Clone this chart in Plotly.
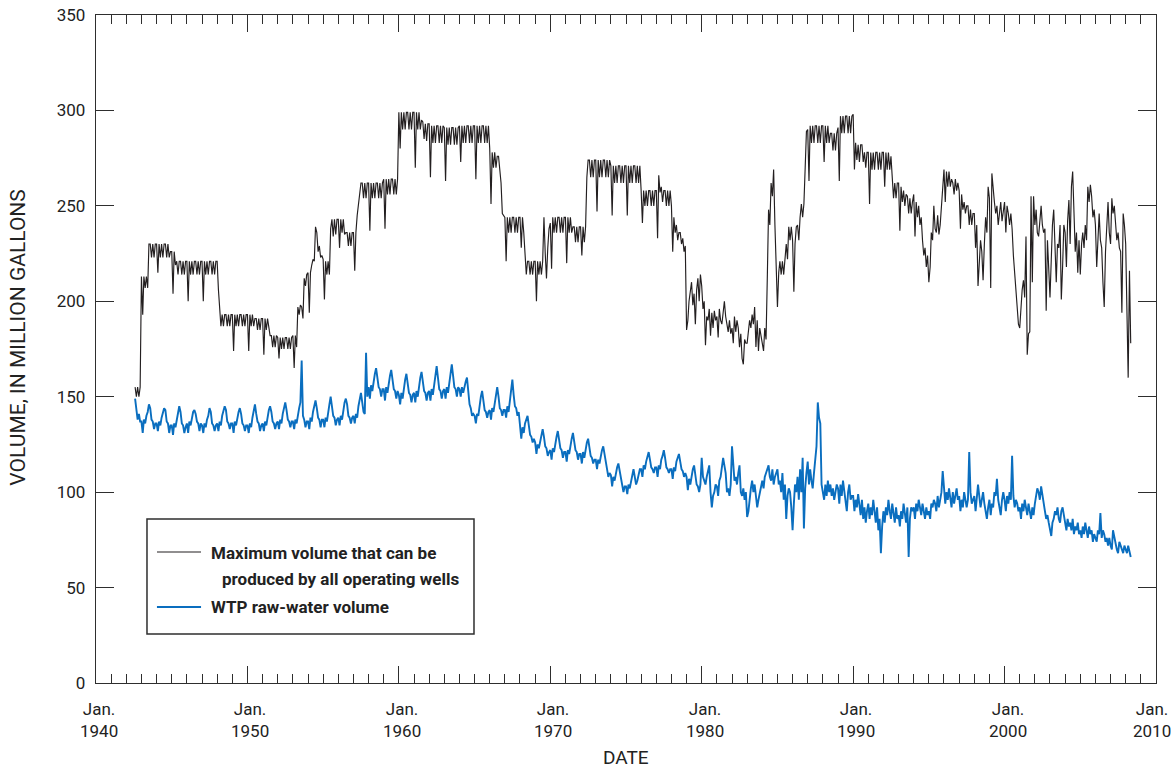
import pandas as pd
import plotly.graph_objects as go

# Monthly volumes, in million gallons, starting August 1942 (one row per calendar year)
MAX_VOLUME = [
    155, 150, 155, 150, 155,                                    # 1942 (Aug-Dec)
    213, 193, 213, 207, 213, 207, 230, 230, 223, 230, 223, 230,  # 1943
    230, 215, 230, 223, 230, 223, 230, 230, 223, 230, 223, 226,  # 1944
    226, 204, 226, 219, 221, 214, 221, 221, 214, 221, 214, 221,  # 1945
    221, 200, 221, 214, 221, 214, 221, 221, 214, 221, 214, 221,  # 1946
    221, 200, 221, 214, 221, 214, 221, 221, 214, 221, 214, 221,  # 1947
    221, 206, 193, 187, 193, 187, 193, 193, 187, 193, 187, 193,  # 1948
    193, 174, 193, 187, 193, 187, 193, 193, 187, 193, 187, 193,  # 1949
    193, 174, 193, 187, 193, 187, 191, 191, 185, 191, 185, 191,  # 1950
    191, 172, 191, 185, 191, 185, 182, 182, 176, 182, 176, 182,  # 1951
    181, 170, 181, 175, 181, 175, 181, 181, 175, 181, 175, 181,  # 1952
    182, 165, 182, 176, 197, 193, 198, 197, 191, 212, 208, 214,  # 1953
    215, 194, 215, 219, 222, 221, 239, 236, 226, 229, 223, 224,  # 1954
    222, 201, 221, 214, 221, 214, 238, 243, 234, 243, 235, 243,  # 1955
    243, 228, 243, 236, 243, 235, 236, 236, 229, 236, 229, 236,  # 1956
    236, 216, 236, 245, 251, 254, 262, 262, 254, 262, 254, 262,  # 1957
    262, 237, 262, 254, 262, 254, 262, 262, 254, 262, 254, 262,  # 1958
    264, 238, 264, 256, 264, 256, 264, 264, 256, 264, 256, 264,  # 1959
    299, 280, 299, 290, 299, 290, 299, 299, 290, 299, 290, 299,  # 1960
    299, 270, 299, 290, 299, 290, 295, 294, 285, 293, 284, 293,  # 1961
    293, 265, 292, 283, 292, 283, 292, 292, 283, 292, 283, 292,  # 1962
    291, 263, 291, 282, 291, 282, 291, 291, 282, 291, 282, 291,  # 1963
    292, 273, 292, 283, 292, 283, 292, 292, 283, 292, 283, 292,  # 1964
    292, 264, 292, 283, 292, 283, 292, 292, 283, 292, 283, 292,  # 1965
    280, 251, 278, 270, 278, 270, 276, 276, 268, 262, 246, 245,  # 1966
    244, 221, 244, 236, 244, 236, 244, 244, 236, 244, 236, 244,  # 1967
    244, 228, 244, 236, 221, 214, 221, 221, 214, 221, 214, 221,  # 1968
    221, 200, 221, 214, 221, 214, 221, 244, 225, 212, 228, 238,  # 1969
    241, 217, 244, 236, 244, 236, 244, 244, 236, 244, 236, 244,  # 1970
    244, 220, 244, 236, 244, 236, 239, 239, 231, 239, 231, 239,  # 1971
    239, 224, 239, 231, 239, 265, 274, 274, 265, 274, 265, 274,  # 1972
    274, 247, 274, 265, 274, 265, 274, 274, 265, 274, 265, 274,  # 1973
    271, 245, 271, 262, 271, 262, 271, 271, 262, 271, 262, 271,  # 1974
    271, 245, 271, 262, 271, 262, 271, 271, 262, 271, 262, 271,  # 1975
    258, 241, 258, 250, 258, 250, 258, 258, 250, 258, 250, 258,  # 1976
    258, 233, 266, 257, 260, 252, 258, 258, 250, 258, 250, 258,  # 1977
    250, 226, 244, 236, 240, 232, 236, 236, 230, 233, 226, 229,  # 1978
    185, 190, 200, 205, 210, 198, 204, 188, 206, 212, 200, 214,  # 1979
    208, 196, 200, 177, 192, 190, 196, 182, 194, 186, 195, 190,  # 1980
    192, 181, 196, 190, 188, 194, 200, 192, 187, 184, 190, 183,  # 1981
    186, 178, 192, 184, 190, 186, 176, 183, 170, 167, 180, 178,  # 1982
    178, 184, 190, 186, 193, 188, 197, 176, 190, 174, 186, 182,  # 1983
    178, 174, 186, 180, 212, 248, 240, 262, 255, 269, 240, 215,  # 1984
    197, 215, 221, 214, 221, 214, 221, 230, 222, 239, 232, 239,  # 1985
    232, 205, 230, 239, 240, 232, 244, 251, 244, 251, 270, 289,  # 1986
    290, 263, 292, 283, 292, 283, 292, 292, 283, 292, 283, 292,  # 1987
    292, 273, 292, 283, 292, 283, 288, 288, 279, 288, 279, 288,  # 1988
    291, 263, 297, 288, 297, 288, 297, 297, 288, 297, 288, 297,  # 1989
    298, 269, 283, 274, 282, 273, 282, 282, 273, 278, 270, 278,  # 1990
    278, 251, 278, 269, 278, 269, 278, 278, 269, 278, 269, 278,  # 1991
    278, 260, 278, 269, 278, 269, 276, 262, 254, 262, 254, 262,  # 1992
    262, 237, 260, 252, 258, 250, 256, 255, 246, 254, 246, 252,  # 1993
    256, 234, 252, 244, 250, 240, 244, 232, 224, 228, 218, 224,  # 1994
    210, 218, 236, 232, 250, 238, 236, 245, 235, 240, 250, 262,  # 1995
    269, 252, 268, 260, 268, 260, 264, 262, 256, 264, 258, 262,  # 1996
    258, 238, 256, 248, 252, 246, 250, 250, 240, 248, 240, 246,  # 1997
    246, 228, 240, 208, 222, 232, 226, 211, 230, 244, 236, 260,  # 1998
    254, 207, 267, 258, 252, 246, 250, 240, 246, 252, 242, 248,  # 1999
    252, 236, 250, 246, 240, 246, 238, 224, 214, 208, 196, 188,  # 2000
    186, 198, 206, 211, 202, 234, 172, 183, 184, 255, 210, 255,  # 2001
    240, 248, 236, 234, 242, 250, 240, 236, 238, 195, 232, 212,  # 2002
    202, 222, 240, 248, 232, 210, 230, 228, 240, 201, 218, 240,  # 2003
    236, 218, 242, 253, 230, 260, 268, 240, 226, 236, 215, 232,  # 2004
    214, 230, 236, 228, 240, 232, 260, 252, 261, 255, 244, 248,  # 2005
    240, 218, 236, 246, 232, 228, 210, 197, 226, 238, 252, 236,  # 2006
    230, 254, 246, 250, 240, 232, 236, 228, 226, 194, 246, 240,  # 2007
    230, 190, 160, 216, 178,                                    # 2008 (Jan-May)
]

WTP_VOLUME = [
    149, 142, 138, 141, 137,                                    # 1942 (Aug-Dec)
    137, 131, 138, 136, 140, 142, 146, 144, 138, 137, 133, 136,  # 1943
    136, 132, 137, 135, 139, 141, 144, 143, 137, 136, 131, 135,  # 1944
    135, 130, 136, 134, 138, 141, 145, 142, 136, 135, 131, 134,  # 1945
    136, 131, 137, 135, 139, 142, 143, 141, 137, 136, 132, 136,  # 1946
    135, 131, 136, 134, 138, 140, 144, 142, 136, 135, 132, 135,  # 1947
    136, 132, 137, 135, 140, 143, 145, 143, 137, 136, 133, 136,  # 1948
    136, 131, 137, 135, 139, 142, 144, 141, 136, 135, 132, 135,  # 1949
    135, 131, 136, 134, 139, 143, 146, 141, 137, 136, 132, 135,  # 1950
    136, 132, 137, 135, 140, 143, 145, 142, 137, 136, 133, 136,  # 1951
    137, 133, 138, 136, 141, 144, 147, 143, 138, 137, 134, 137,  # 1952
    137, 133, 138, 136, 141, 144, 147, 169, 140, 138, 134, 137,  # 1953
    137, 133, 139, 137, 142, 145, 148, 144, 139, 138, 134, 138,  # 1954
    138, 134, 139, 137, 143, 146, 150, 145, 140, 139, 135, 138,  # 1955
    139, 135, 140, 138, 143, 147, 149, 146, 140, 139, 136, 139,  # 1956
    140, 136, 141, 139, 145, 148, 152, 147, 142, 141, 173, 150,  # 1957
    155, 149, 156, 153, 158, 162, 165, 160, 155, 154, 150, 154,  # 1958
    154, 148, 155, 152, 157, 161, 164, 159, 154, 153, 149, 153,  # 1959
    151, 146, 152, 149, 155, 159, 162, 158, 152, 151, 147, 151,  # 1960
    152, 147, 153, 150, 156, 160, 163, 159, 153, 152, 148, 152,  # 1961
    153, 148, 154, 151, 157, 161, 166, 160, 154, 153, 149, 153,  # 1962
    154, 149, 155, 152, 158, 163, 167, 161, 155, 154, 150, 155,  # 1963
    154, 150, 155, 152, 156, 158, 160, 153, 146, 144, 140, 141,  # 1964
    140, 136, 141, 140, 146, 150, 153, 149, 143, 142, 139, 142,  # 1965
    143, 138, 144, 142, 147, 151, 155, 150, 144, 143, 140, 143,  # 1966
    143, 139, 145, 142, 148, 152, 159, 151, 145, 144, 140, 142,  # 1967
    136, 128, 134, 131, 136, 138, 140, 135, 130, 129, 126, 128,  # 1968
    126, 120, 125, 123, 127, 130, 133, 129, 124, 123, 119, 121,  # 1969
    122, 117, 123, 121, 126, 129, 132, 128, 123, 122, 118, 121,  # 1970
    121, 116, 122, 120, 125, 128, 131, 127, 122, 121, 117, 120,  # 1971
    120, 115, 121, 118, 123, 126, 128, 124, 119, 118, 115, 117,  # 1972
    117, 112, 117, 115, 119, 122, 124, 120, 114, 112, 108, 110,  # 1973
    109, 103, 108, 106, 110, 113, 115, 111, 106, 104, 100, 103,  # 1974
    103, 99, 104, 102, 106, 109, 112, 108, 104, 106, 110, 112,   # 1975
    112, 108, 114, 112, 116, 118, 121, 117, 113, 112, 110, 113,  # 1976
    113, 108, 114, 112, 117, 119, 122, 118, 113, 112, 110, 112,  # 1977
    112, 107, 113, 111, 116, 118, 120, 116, 112, 111, 108, 110,  # 1978
    108, 101, 107, 104, 109, 112, 114, 110, 104, 103, 100, 104,  # 1979
    118, 108, 106, 104, 108, 112, 114, 100, 92, 98, 100, 104,    # 1980
    103, 98, 106, 108, 112, 118, 114, 110, 100, 102, 98, 104,    # 1981
    124, 112, 106, 108, 104, 110, 114, 100, 98, 102, 96, 100,    # 1982
    87, 90, 98, 102, 106, 100, 104, 98, 92, 96, 100, 104,        # 1983
    106, 102, 108, 110, 112, 114, 108, 106, 112, 104, 108, 110,  # 1984
    112, 104, 106, 100, 110, 96, 104, 86, 98, 102, 100, 92,      # 1985
    80, 94, 104, 100, 108, 96, 112, 100, 118, 81, 102, 110,      # 1986
    116, 104, 112, 106, 102, 110, 118, 124, 147, 139, 136, 104,  # 1987
    100, 96, 104, 98, 106, 100, 104, 98, 102, 96, 100, 104,      # 1988
    102, 94, 104, 98, 106, 100, 96, 90, 100, 104, 96, 98,        # 1989
    98, 90, 96, 92, 99, 94, 88, 96, 86, 92, 84, 90,              # 1990
    94, 86, 92, 88, 96, 90, 84, 92, 80, 86, 68, 82,              # 1991
    90, 84, 92, 88, 96, 90, 86, 94, 88, 84, 92, 86,              # 1992
    88, 82, 90, 86, 94, 90, 84, 92, 66, 86, 92, 90,              # 1993
    92, 86, 94, 90, 96, 92, 88, 94, 90, 86, 92, 88,              # 1994
    90, 86, 94, 92, 96, 94, 90, 98, 92, 96, 100, 111,            # 1995
    102, 94, 100, 96, 102, 98, 92, 100, 94, 98, 102, 96,         # 1996
    98, 90, 96, 92, 100, 96, 92, 96, 121, 100, 94, 96,           # 1997
    98, 90, 96, 104, 98, 92, 96, 100, 94, 90, 86, 92,            # 1998
    96, 88, 94, 92, 100, 98, 107, 96, 92, 88, 96, 100,           # 1999
    96, 90, 98, 94, 100, 96, 119, 98, 92, 96, 94, 90,            # 2000
    92, 86, 94, 90, 96, 92, 88, 94, 90, 86, 92, 88,              # 2001
    94, 98, 102, 100, 96, 103, 98, 94, 90, 86, 88, 84,           # 2002
    80, 77, 84, 86, 90, 88, 92, 86, 84, 90, 92, 88,              # 2003
    84, 80, 86, 82, 84, 80, 86, 78, 82, 80, 84, 78,              # 2004
    80, 76, 82, 78, 84, 80, 76, 82, 78, 80, 74, 78,              # 2005
    76, 74, 80, 78, 89, 76, 80, 78, 74, 76, 72, 76,              # 2006
    72, 70, 80, 76, 74, 70, 68, 74, 72, 70, 68, 72,              # 2007
    70, 68, 72, 68, 66,                                          # 2008 (Jan-May)
]

TICK_YEARS = [1940, 1950, 1960, 1970, 1980, 1990, 2000, 2010]
TICK_DATES = [f"{y}-01-01" for y in TICK_YEARS]
TICK_TEXT = [f"Jan.<br>{y}" for y in TICK_YEARS]
X_RANGE = ["1940-01-01", "2010-01-01"]
Y_RANGE = [0, 350]
Y_TICKS = list(range(0, 351, 50))

dates = pd.date_range("1942-08-01", periods=len(MAX_VOLUME), freq="MS")

FONT = "Roboto, Liberation Sans, Arial, sans-serif"
INK = "#231f20"
FRAME = "#2e2e2e"
BLUE = "#0a6ebf"

fig = go.Figure()
fig.add_trace(go.Scatter(x=dates, y=MAX_VOLUME, mode="lines",
                         line=dict(color=INK, width=1.15), showlegend=False,
                         hoverinfo="skip"))
fig.add_trace(go.Scatter(x=dates[:len(WTP_VOLUME)], y=WTP_VOLUME, mode="lines",
                         line=dict(color=BLUE, width=1.9), showlegend=False,
                         hoverinfo="skip"))
# empty trace that carries the top/right tick axes
fig.add_trace(go.Scatter(x=[], y=[], xaxis="x2", yaxis="y2", showlegend=False,
                         hoverinfo="skip"))

tick_font = dict(family=FONT, size=17, color="#222")
base = dict(showgrid=False, zeroline=False, automargin=False,
            ticks="inside", tickcolor=FRAME, tickwidth=1.2)
minor_ticks = dict(dtick="M12", tick0="1940-01-01", ticks="inside",
                   ticklen=9, tickwidth=1.2, tickcolor=FRAME, showgrid=False)

fig.update_layout(
    xaxis=dict(type="date", range=X_RANGE, tickvals=TICK_DATES, ticklen=17,
               showticklabels=False, showline=True, linecolor=FRAME, linewidth=1.4,
               mirror=True, minor=minor_ticks, **base),
    yaxis=dict(range=Y_RANGE, tickvals=Y_TICKS, ticklen=18, ticklabelstandoff=6,
               showline=True, linecolor=FRAME, linewidth=1.4, mirror=True,
               tickfont=tick_font, **base),
    xaxis2=dict(type="date", range=X_RANGE, overlaying="x", side="top", anchor="y2",
                tickvals=TICK_DATES, ticklen=17, showticklabels=False, showline=False,
                minor=minor_ticks, **base),
    yaxis2=dict(range=Y_RANGE, overlaying="y", side="right", anchor="x2",
                tickvals=Y_TICKS, ticklen=18, showticklabels=False,
                showline=False, **base),
)

# Date labels under the decade ticks (the last one is nudged inside the page)
for d, label in zip(TICK_DATES, TICK_TEXT):
    fig.add_annotation(xref="x", yref="paper", x=d, y=0, yanchor="top",
                       xanchor="center", yshift=-14,
                       xshift=-4 if d.startswith("2010") else 3,
                       showarrow=False, font=tick_font, text=label)

# Legend box, drawn in paper coordinates
fig.add_shape(type="rect", xref="paper", yref="paper",
              x0=0.0481, x1=0.3566, y0=0.0734, y1=0.2455,
              line=dict(color=FRAME, width=1.5), fillcolor="white", layer="above")
fig.add_shape(type="line", xref="paper", yref="paper",
              x0=0.0575, x1=0.0991, y0=0.1961, y1=0.1961,
              line=dict(color=INK, width=1.1))
fig.add_shape(type="line", xref="paper", yref="paper",
              x0=0.0575, x1=0.0991, y0=0.1138, y1=0.1138,
              line=dict(color=BLUE, width=1.9))

legend_font = dict(family=FONT, size=17, color="#222", weight="bold")
for x, y, label in [(0.1066, 0.1946, "Maximum volume that can be"),
                    (0.1170, 0.1557, "produced by all operating wells"),
                    (0.1066, 0.1138, "WTP raw-water volume")]:
    fig.add_annotation(xref="paper", yref="paper", x=x, y=y, xanchor="left",
                       yanchor="middle", showarrow=False, font=legend_font, text=label)

# Axis titles
fig.add_annotation(xref="paper", yref="paper", x=-0.0736, y=0.517, textangle=-90,
                   xanchor="center", yanchor="middle", showarrow=False,
                   font=dict(family=FONT, size=21, color="#222"),
                   text="VOLUME, IN MILLION GALLONS")
fig.add_annotation(xref="paper", yref="paper", x=0.5, y=-0.1317,
                   xanchor="center", yanchor="bottom", showarrow=False,
                   font=dict(family=FONT, size=19, color="#222"), text="DATE")

fig.update_layout(width=1172, height=772, margin=dict(l=96, r=16, t=15, b=89),
                  paper_bgcolor="white", plot_bgcolor="white", showlegend=False,
                  font=dict(family=FONT, color="#222"))

fig.write_html("out.html")
